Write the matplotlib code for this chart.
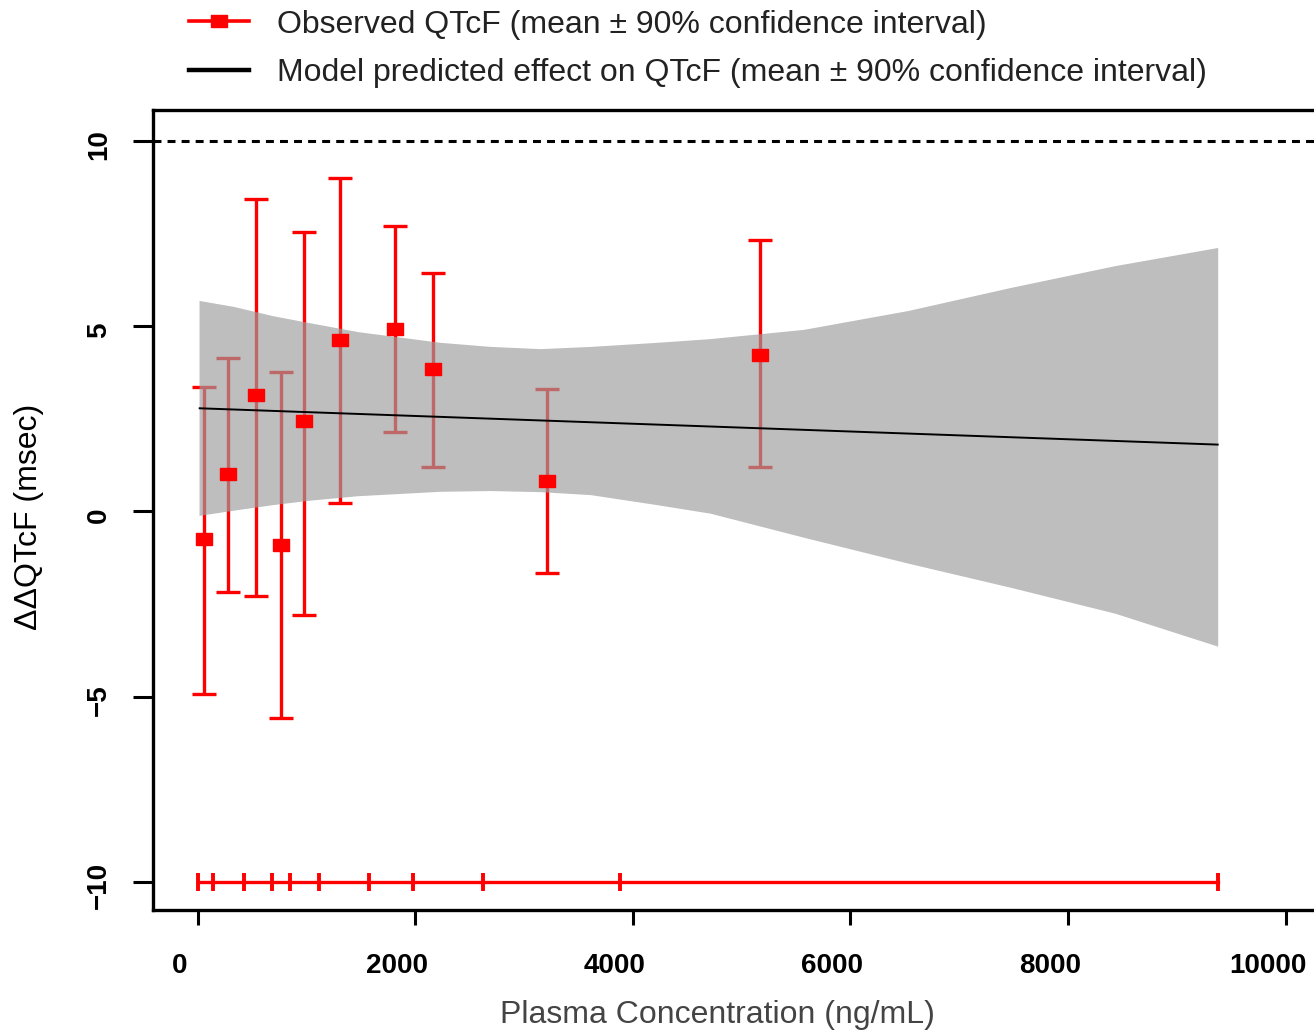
import numpy as np
import matplotlib
matplotlib.use("Agg")
import matplotlib.pyplot as plt
from matplotlib.lines import Line2D
from matplotlib.transforms import ScaledTranslation

plt.rcParams['font.family'] = ['Liberation Sans', 'DejaVu Sans']

# observed QTcF by concentration bin: mean and 90% CI
obs_conc = [60, 280, 537, 767, 978, 1309, 1814, 2163, 3210, 5167]
obs_mean = [-0.75, 1.02, 3.13, -0.92, 2.43, 4.61, 4.93, 3.85, 0.81, 4.23]
obs_lo = [-4.93, -2.18, -2.29, -5.58, -2.80, 0.22, 2.13, 1.19, -1.67, 1.19]
obs_hi = [3.35, 4.15, 8.44, 3.77, 7.55, 9.00, 7.71, 6.44, 3.29, 7.33]

# model prediction (mean line and 90% CI band)
model_conc = [20, 9375]
model_mean = [2.78, 1.80]
band_conc = [14, 330, 690, 1030, 1470, 2230, 2690, 3150, 3610, 4220,
             4710, 5570, 6530, 7470, 8430, 9375]
band_hi = [5.69, 5.53, 5.28, 5.09, 4.85, 4.56, 4.45, 4.39, 4.45, 4.56,
           4.66, 4.91, 5.42, 6.04, 6.63, 7.12]
band_lo = [-0.11, 0.03, 0.18, 0.30, 0.42, 0.54, 0.56, 0.53, 0.45, 0.18,
           -0.05, -0.70, -1.40, -2.05, -2.75, -3.64]

# concentration bin edges shown along y = -10
bin_edges = [5, 142, 427, 684, 850, 1116, 1576, 1980, 2623, 3882, 9375]
bin_y = -10

threshold = 10

fig = plt.figure(figsize=(13.14, 10.34), dpi=100)
ax = fig.add_axes([153 / 1314, 1 - 910 / 1034, 1161 / 1314, 800 / 1034])

rect = [(-1, -0.75), (1, -0.75), (1, 0.75), (-1, 0.75), (-1, -0.75)]

obs_mean_a = np.array(obs_mean)
yerr = [obs_mean_a - np.array(obs_lo), np.array(obs_hi) - obs_mean_a]
ax.errorbar(obs_conc, obs_mean, yerr=yerr, fmt='none', ecolor='#ff0000',
            elinewidth=2.4, capsize=8.3, capthick=2.4, zorder=1)

ax.fill_between(band_conc, band_lo, band_hi, color=(0.62, 0.62, 0.62),
                alpha=0.67, lw=0, zorder=2)
ax.plot(model_conc, model_mean, color='black', lw=1.4, zorder=3)
ax.plot(obs_conc, obs_mean, ls='none', marker=rect, ms=11.5,
        color='#ff0000', mec='#ff0000', zorder=4)

ax.plot([bin_edges[0], bin_edges[-1]], [bin_y, bin_y], color='#ff0000',
        lw=2.4, zorder=3)
ax.plot(bin_edges, [bin_y] * len(bin_edges), ls='none', marker='|',
        ms=13.5, mew=2.8, color='#ff0000', zorder=3)

ax.axhline(threshold, color='black', lw=2.2, dashes=(2.6, 2.0), zorder=3)

ax.set_xlim(-409, 10260)
ax.set_ylim(-10.76, 10.83)
ax.set_xticks([0, 2000, 4000, 6000, 8000, 10000])
ax.set_yticks([-10, -5, 0, 5, 10])
ax.tick_params(axis='y', direction='out', length=14.5, width=2.2,
               pad=15, labelsize=20, labelrotation=90)
ax.tick_params(axis='x', direction='out', length=10.8, width=2.2,
               pad=20, labelsize=20)
shift_x = ScaledTranslation(-18 / 100, 0, fig.dpi_scale_trans)
shift_y = ScaledTranslation(0, -4 / 100, fig.dpi_scale_trans)
for lab in ax.get_xticklabels():
    lab.set_fontweight('bold')
    lab.set_transform(lab.get_transform() + shift_x)
for lab in ax.get_yticklabels():
    lab.set_fontweight('bold')
    lab.set_va('center')
    lab.set_transform(lab.get_transform() + shift_y)
ax.spines['right'].set_visible(False)
for s in ['left', 'top', 'bottom']:
    ax.spines[s].set_linewidth(2.4)

ax.set_xlabel('Plasma Concentration (ng/mL)', fontsize=23, color='#444444')
ax.xaxis.label.set_va('center')
ax.xaxis.set_label_coords((718 - 154) / 1160, (910 - 1015) / 800)
ax.set_ylabel('ΔΔQTcF (msec)', fontsize=23)
ax.yaxis.label.set_va('center')
ax.yaxis.set_label_coords((30 - 154) / 1160, (910 - 517) / 800)

handles = [
    Line2D([], [], color='#ff0000', lw=2.6, marker=rect, ms=11.5),
    Line2D([], [], color='black', lw=3.2),
]
labels = ['Observed QTcF (mean \u00b1 90% confidence interval)',
          'Model predicted effect on QTcF (mean \u00b1 90% confidence interval)']
fig.legend(handles, labels, loc='upper left', bbox_to_anchor=(176 / 1314, 1.003),
           frameon=False, fontsize=23, handlelength=1.88, handletextpad=0.87,
           labelspacing=0.58, borderaxespad=0.0, labelcolor='#222222')

fig.savefig('out.png', dpi=100)
